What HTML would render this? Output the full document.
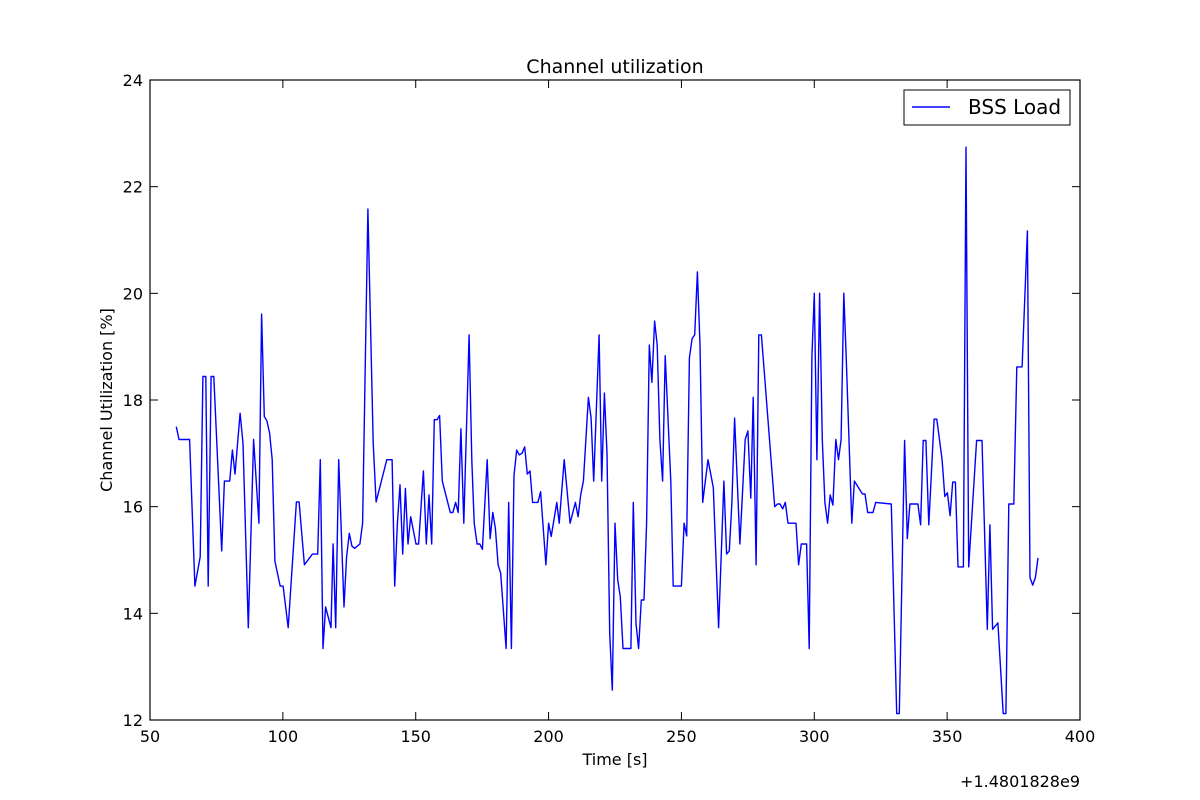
<!DOCTYPE html>
<html><head><meta charset="utf-8"><style>
html,body{margin:0;padding:0;background:#fff;}
svg{display:block;font-family:"DejaVu Sans","Liberation Sans",sans-serif;}
</style></head><body>
<svg id="chart" width="1200" height="800" viewBox="0 0 1200 800" xmlns="http://www.w3.org/2000/svg">
<rect width="1200" height="800" fill="#fff"/>
<text x="615" y="73" font-size="19" text-anchor="middle">Channel utilization</text>
<g id="ticks"></g>
<path id="series" fill="none" stroke="#0000ff" stroke-width="1.4" stroke-linejoin="round"/>
<rect x="150" y="80" width="930" height="640" fill="none" stroke="#000" stroke-width="1.2"/>
<text x="615" y="765" font-size="16" text-anchor="middle">Time [s]</text>
<text transform="translate(112,400) rotate(-90)" font-size="16" text-anchor="middle">Channel Utilization [%]</text>
<text x="1080" y="787" font-size="16" text-anchor="end">+1.4801828e9</text>
<g>
<rect x="904" y="90" width="166" height="35" fill="#fff" stroke="#000" stroke-width="1"/>
<line x1="912" y1="107" x2="950" y2="107" stroke="#0000ff" stroke-width="1.4"/>
<text x="968" y="114" font-size="20">BSS Load</text>
</g>
</svg>
<script>
const times=[59.9,60.9,64.9,66.9,68.9,69.9,71.0,71.9,73.0,74.0,77.0,78.0,80.0,81.0,82.0,83.9,85.0,87.0,89.0,91.0,92.0,93.0,94.0,95.0,96.0,97.0,99.0,100.1,102.0,105.1,106.1,108.1,111.1,113.1,114.1,115.1,116.1,118.1,118.9,119.9,121.0,123.0,124.0,125.0,126.0,127.0,129.0,130.0,132.0,134.0,135.1,139.1,141.1,142.1,143.1,144.1,145.1,146.1,147.1,148.1,150.1,151.1,152.9,154.0,155.0,156.0,157.0,158.0,159.0,160.0,163.0,164.0,165.0,166.0,167.0,168.1,170.1,171.1,172.0,173.1,174.1,175.1,176.9,178.0,179.0,180.0,181.0,182.0,184.0,185.0,186.0,187.0,188.0,189.0,190.0,191.0,192.0,193.0,194.0,196.0,197.0,199.0,200.0,201.0,203.1,204.0,205.9,208.1,210.1,211.1,212.1,213.1,215.0,216.0,217.0,219.0,220.0,221.0,222.0,223.0,224.0,225.0,226.0,227.0,228.0,231.0,231.9,232.9,233.9,234.9,235.9,236.9,237.9,238.9,239.9,240.9,241.9,242.9,243.9,246.0,246.9,250.0,251.0,252.0,253.0,254.0,255.0,256.0,257.0,258.0,260.0,262.0,264.0,266.0,267.0,268.0,269.0,270.0,272.0,274.0,275.0,276.1,277.0,278.1,279.1,280.1,285.1,286.1,287.1,288.1,289.1,290.1,293.1,294.1,295.1,297.1,298.1,299.1,300.0,301.0,302.0,303.0,304.0,305.0,306.0,307.0,308.1,309.1,310.1,311.1,312.0,314.1,315.1,318.1,319.1,320.1,322.1,323.1,329.0,331.0,332.0,334.0,335.0,336.0,339.0,340.0,341.0,342.0,343.1,345.1,346.1,348.1,349.1,350.1,351.1,352.1,353.1,354.1,356.1,357.1,358.1,361.1,363.1,365.1,366.1,367.1,369.1,371.1,372.1,373.2,375.1,376.2,378.2,380.2,381.2,382.2,383.2,384.2];
const loads=[17.50,17.26,17.26,14.51,15.06,18.44,18.44,14.51,18.44,18.44,15.17,16.48,16.48,17.06,16.61,17.75,17.19,13.73,17.26,15.69,19.61,17.69,17.61,17.38,16.88,14.98,14.51,14.51,13.73,16.09,16.09,14.91,15.11,15.11,16.88,13.34,14.12,13.73,15.30,13.73,16.88,14.12,15.06,15.50,15.26,15.22,15.30,15.69,21.58,17.19,16.09,16.88,16.88,14.51,15.69,16.41,15.11,16.34,15.30,15.81,15.30,15.30,16.67,15.30,16.22,15.30,17.63,17.63,17.71,16.48,15.89,15.89,16.08,15.89,17.46,15.69,19.22,16.88,15.69,15.30,15.30,15.20,16.88,15.40,15.89,15.59,14.91,14.75,13.34,16.08,13.34,16.59,17.06,16.97,17.00,17.12,16.61,16.67,16.08,16.08,16.28,14.91,15.69,15.44,16.08,15.69,16.88,15.69,16.08,15.81,16.22,16.48,18.05,17.66,16.48,19.22,16.48,18.13,17.00,13.63,12.56,15.69,14.63,14.31,13.34,13.34,16.08,13.81,13.34,14.25,14.25,15.69,19.03,18.33,19.48,19.03,17.25,16.48,18.83,16.48,14.51,14.51,15.69,15.45,18.79,19.15,19.22,20.40,19.03,16.08,16.88,16.36,13.73,16.48,15.11,15.17,16.08,17.66,15.30,17.26,17.42,16.16,18.05,14.91,19.22,19.22,16.00,16.05,16.05,15.96,16.08,15.69,15.69,14.91,15.30,15.30,13.34,18.81,20.00,16.88,20.00,17.25,16.08,15.69,16.22,16.03,17.26,16.88,17.26,20.00,18.81,15.69,16.48,16.24,16.24,15.89,15.89,16.08,16.05,12.12,12.12,17.24,15.40,16.05,16.05,15.66,17.24,17.24,15.66,17.64,17.64,16.88,16.19,16.26,15.83,16.46,16.46,14.87,14.87,22.74,14.87,17.24,17.24,13.70,15.66,13.70,13.82,12.12,12.12,16.05,16.05,18.62,18.62,21.17,14.67,14.53,14.67,15.04];
const xTicks=[50,100,150,200,250,300,350,400];
const yTicks=[12,14,16,18,20,22,24];
const X0=150,X1=1080,Y0=720,Y1=80,xMin=50,xMax=400,yMin=12,yMax=24;
function xs(v){return X0+(v-xMin)*(X1-X0)/(xMax-xMin);}
function ys(v){return Y0-(v-yMin)*(Y0-Y1)/(yMax-yMin);}
const NS="http://www.w3.org/2000/svg";
const g=document.getElementById('ticks');
function ln(x1,y1,x2,y2){const l=document.createElementNS(NS,'line');l.setAttribute('x1',x1);l.setAttribute('y1',y1);l.setAttribute('x2',x2);l.setAttribute('y2',y2);l.setAttribute('stroke','#000');l.setAttribute('stroke-width','1');


g.appendChild(l);}
function tx(x,y,s,anchor,name){const t=document.createElementNS(NS,'text');t.setAttribute('x',x);t.setAttribute('y',y);t.setAttribute('font-size','16');t.setAttribute('text-anchor',anchor);t.textContent=s;


g.appendChild(t);}
xTicks.forEach(v=>{const x=xs(v);ln(x,Y0,x,Y0-8);ln(x,Y1,x,Y1+8);tx(x,742,String(v),'middle','x-tick-label');});
yTicks.forEach(v=>{const y=ys(v);ln(X0,y,X0+8,y);ln(X1,y,X1-8,y);tx(X0-7,y+6,String(v),'end','y-tick-label');});
let d='';
times.forEach((t,i)=>{d+=(i?'L':'M')+xs(t).toFixed(1)+' '+ys(loads[i]).toFixed(1);});
document.getElementById('series').setAttribute('d',d);
</script>
</body></html>
